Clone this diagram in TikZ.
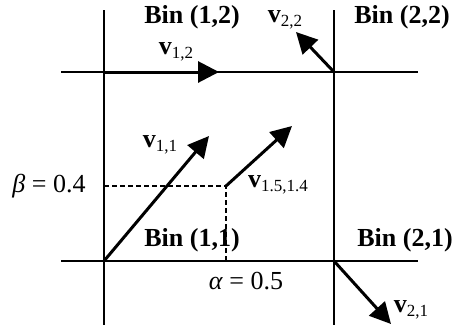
\documentclass[tikz,border=0pt]{standalone}
\usepackage{fontspec}
\setmainfont{Liberation Serif}
\usetikzlibrary{arrows.meta}
\newcommand{\vlab}[1]{{\bfseries v}\raisebox{-0.35ex}{\fontsize{17}{17}\selectfont #1}}
\tikzset{
  gridline/.style={line width=1.6pt},
  vec/.style={line width=3pt,-{Triangle[length=21pt,width=21pt]}},
  guide/.style={line width=1.2pt,dash pattern=on 5pt off 3pt},
  binlab/.style={font=\fontsize{26}{26}\selectfont\bfseries,inner sep=0pt,anchor=center},
  vlabel/.style={font=\fontsize{26}{26}\selectfont,inner sep=0pt,anchor=center},
  mlabel/.style={font=\fontsize{26}{26}\selectfont,inner sep=0pt,anchor=center}
}
\begin{document}
\begin{tikzpicture}[x=1pt,y=-1pt]
\useasboundingbox (0,0) rectangle (456,333);
% grid coordinates
\coordinate (L1) at (104,10);
\coordinate (L2) at (104,325);
\coordinate (R1) at (334,10);
\coordinate (R2) at (334,325);
\coordinate (T1) at (61,72);
\coordinate (T2) at (418,72);
\coordinate (B1) at (61,261);
\coordinate (B2) at (418,261);
\coordinate (o11) at (104,261);
\coordinate (o12) at (104,72);
\coordinate (o22) at (334,72);
\coordinate (o21) at (334,261);
\coordinate (p) at (226,186);
\coordinate (pb) at (226,261);
\coordinate (pl) at (104,186);
\coordinate (t12) at (219,72);
\coordinate (t22) at (296,32);
\coordinate (t11) at (209,136);
\coordinate (tp) at (292,126);
\coordinate (t21) at (391,324);
\draw[gridline] (L1) -- (L2);
\draw[gridline] (R1) -- (R2);
\draw[gridline] (T1) -- (T2);
\draw[gridline] (B1) -- (B2);
\draw[guide] (pl) -- (p) -- (pb);
\draw[vec] (o12) -- (t12);
\draw[vec] (o22) -- (t22);
\draw[vec] (o11) -- (t11);
\draw[vec] (p) -- (tp);
\draw[vec] (o21) -- (t21);
\node[binlab] (b12) at (192,17) {Bin (1,2)};
\node[binlab] (b22) at (402,17) {Bin (2,2)};
\node[binlab] (b11) at (192,240) {Bin (1,1)};
\node[binlab] (b21) at (405,240) {Bin (2,1)};
\node[vlabel] (v12) at (176,52) {\vlab{1,2}};
\node[vlabel] (v22) at (285,20) {\vlab{2,2}};
\node[vlabel] (v11) at (160,145) {\vlab{1,1}};
\node[vlabel] (vp) at (278,185) {\vlab{1.5,1.4}};
\node[vlabel] (v21) at (411,310) {\vlab{2,1}};
\node[mlabel] (beta) at (49,186) {\textit{β} = 0.4};
\node[mlabel] (alpha) at (246,281) {\textit{α} = 0.5};
\end{tikzpicture}
\end{document}
